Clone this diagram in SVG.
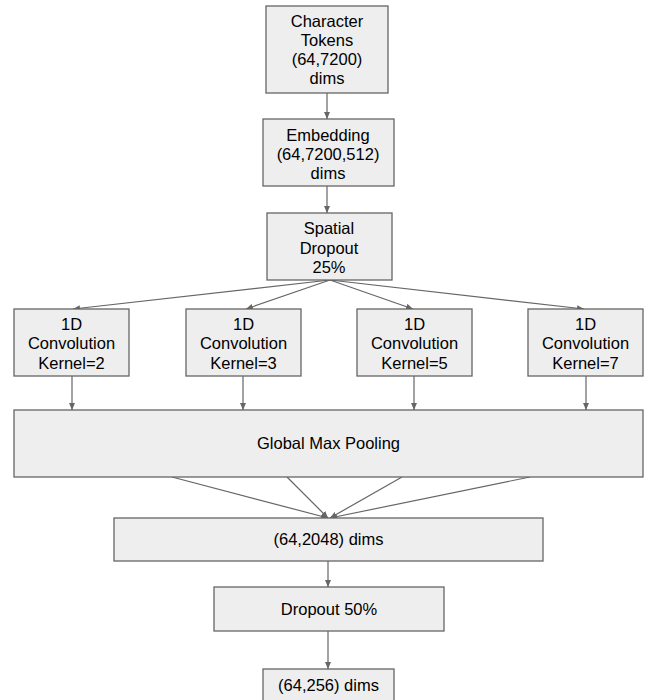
<svg xmlns="http://www.w3.org/2000/svg" width="654" height="700" viewBox="0 0 654 700">
<defs>
<marker id="ah" markerWidth="8" markerHeight="8" refX="7" refY="4" orient="auto" markerUnits="userSpaceOnUse">
<path d="M0,1 L7,4 L0,7 Z" fill="#666666"/>
</marker>
<style>
.box{fill:#eeeeee;stroke:#666666;stroke-width:1.3}
.t{font-family:"Liberation Sans",Arial,sans-serif;font-size:16.5px;fill:#000000;text-anchor:middle}
.c{stroke:#666666;stroke-width:1.2;fill:none;marker-end:url(#ah)}
</style>
</defs>
<rect width="654" height="700" fill="#ffffff"/>
<g id="connectors">
<line class="c" x1="327" y1="93" x2="327" y2="119"/>
<line class="c" x1="327" y1="186" x2="327" y2="213"/>
<line class="c" x1="330" y1="280" x2="73" y2="309"/>
<line class="c" x1="330" y1="280" x2="246" y2="309"/>
<line class="c" x1="330" y1="280" x2="413" y2="309"/>
<line class="c" x1="330" y1="280" x2="584" y2="309"/>
<line class="c" x1="72" y1="376" x2="72" y2="410"/>
<line class="c" x1="243" y1="376" x2="243" y2="410"/>
<line class="c" x1="414" y1="376" x2="414" y2="410"/>
<line class="c" x1="586" y1="376" x2="586" y2="410"/>
<line class="c" x1="172" y1="477" x2="328" y2="518"/>
<line class="c" x1="287" y1="477" x2="328" y2="518"/>
<line class="c" x1="402" y1="477" x2="330" y2="518"/>
<line class="c" x1="530" y1="477" x2="330" y2="518"/>
<line class="c" x1="328" y1="561" x2="328" y2="587"/>
<line class="c" x1="328" y1="631" x2="328" y2="669"/>
</g>
<g id="char-tokens">
<rect class="box" x="266" y="6" width="122" height="87"/>
<text class="t" x="327" y="27">Character</text>
<text class="t" x="327" y="46">Tokens</text>
<text class="t" x="327" y="65">(64,7200)</text>
<text class="t" x="327" y="84">dims</text>
</g>
<g id="embedding">
<rect class="box" x="263" y="119" width="131" height="67"/>
<text class="t" x="328" y="141">Embedding</text>
<text class="t" x="328" y="160">(64,7200,512)</text>
<text class="t" x="328" y="179">dims</text>
</g>
<g id="spatial-dropout">
<rect class="box" x="267" y="213" width="125" height="67"/>
<text class="t" x="329" y="234">Spatial</text>
<text class="t" x="329" y="254">Dropout</text>
<text class="t" x="329" y="273">25%</text>
</g>
<g id="conv2">
<rect class="box" x="14" y="309" width="115" height="67"/>
<text class="t" x="71.5" y="330">1D</text>
<text class="t" x="71.5" y="349">Convolution</text>
<text class="t" x="71.5" y="369">Kernel=2</text>
</g>
<g id="conv3">
<rect class="box" x="186" y="309" width="115" height="67"/>
<text class="t" x="243.5" y="330">1D</text>
<text class="t" x="243.5" y="349">Convolution</text>
<text class="t" x="243.5" y="369">Kernel=3</text>
</g>
<g id="conv5">
<rect class="box" x="357" y="309" width="115" height="67"/>
<text class="t" x="414.5" y="330">1D</text>
<text class="t" x="414.5" y="349">Convolution</text>
<text class="t" x="414.5" y="369">Kernel=5</text>
</g>
<g id="conv7">
<rect class="box" x="528" y="309" width="115" height="67"/>
<text class="t" x="585.5" y="330">1D</text>
<text class="t" x="585.5" y="349">Convolution</text>
<text class="t" x="585.5" y="369">Kernel=7</text>
</g>
<g id="global-max-pooling">
<rect class="box" x="14" y="410" width="629" height="67"/>
<text class="t" x="328.5" y="449">Global Max Pooling</text>
</g>
<g id="dims2048">
<rect class="box" x="114" y="518" width="429" height="43"/>
<text class="t" x="328.5" y="545">(64,2048) dims</text>
</g>
<g id="dropout50">
<rect class="box" x="214" y="587" width="230" height="44"/>
<text class="t" x="329" y="615">Dropout 50%</text>
</g>
<g id="dims256">
<rect class="box" x="263" y="669" width="131" height="40"/>
<text class="t" x="328.5" y="691">(64,256) dims</text>
</g>
</svg>
